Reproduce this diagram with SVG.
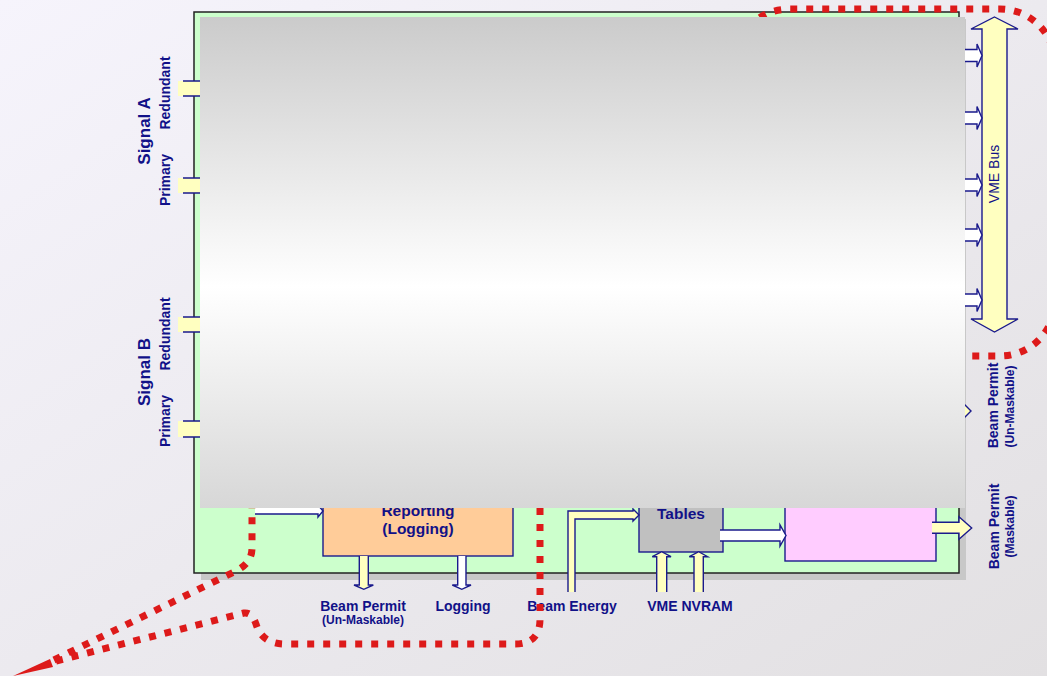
<svg xmlns="http://www.w3.org/2000/svg" width="1047" height="676" viewBox="0 0 1047 676">
<defs>
<linearGradient id="bg" x1="0" y1="0" x2="1" y2="1">
<stop offset="0" stop-color="#f6f4fc"/>
<stop offset="1" stop-color="#e2e0e2"/>
</linearGradient>
<linearGradient id="ov" x1="0" y1="0" x2="0" y2="1">
<stop offset="0" stop-color="#cbcbcb"/>
<stop offset="0.55" stop-color="#ffffff"/>
<stop offset="1" stop-color="#d7d7d7"/>
</linearGradient>
</defs>
<style>
.lbl{font-family:"Liberation Sans",Arial,sans-serif;font-weight:bold;fill:#111188;text-anchor:middle}
.vme{font-family:"Liberation Sans",Arial,sans-serif;fill:#111188;text-anchor:middle;font-size:14px}
.ya{fill:#ffffc0;stroke:#1a1a8c;stroke-width:1.4}
.wa{fill:#ffffff;stroke:#1a1a8c;stroke-width:1.4}
.ln{stroke:#1a1a8c;stroke-width:1.4;fill:none}
.box{stroke:#1a1a8c;stroke-width:1.4}
.red{fill:none;stroke:#dd1a1a;stroke-width:7;stroke-dasharray:7 9}
</style>
<rect width="1047" height="676" fill="url(#bg)"/>

<g id="board">
<rect x="201" y="19" width="765" height="561" fill="#c8c8c8"/>
<rect x="194" y="12" width="765" height="561" fill="#ccffcc" stroke="#222222" stroke-width="1.5"/>
</g>

<g id="signal-inputs">
<rect x="178" y="81" width="27" height="15" fill="#ffffc0"/>
<path class="ln" d="M183,81 H205 M183,96 H205"/>
<rect x="178" y="178" width="27" height="15" fill="#ffffc0"/>
<path class="ln" d="M183,178 H205 M183,193 H205"/>
<rect x="178" y="317" width="27" height="15" fill="#ffffc0"/>
<path class="ln" d="M183,317 H205 M183,332 H205"/>
<rect x="178" y="421" width="27" height="16" fill="#ffffc0"/>
<path class="ln" d="M183,421 H205 M183,437 H205"/>
</g>

<g id="reporting">
<rect class="box" x="323" y="460" width="190" height="96" fill="#ffcc99"/>
<text class="lbl" x="418" y="516" font-size="15.5">Reporting</text>
<text class="lbl" x="418" y="534" font-size="15.5">(Logging)</text>
</g>

<g id="tables">
<rect class="box" x="639" y="460" width="84" height="92" fill="#c0c0c0"/>
<text class="lbl" x="681" y="519" font-size="15.5">Tables</text>
</g>

<g id="permit-logic">
<rect class="box" x="785" y="460" width="151" height="101" fill="#ffccff"/>
</g>

<g id="connectors">
<path class="wa" d="M255,507 H318 V505 L323,511 L318,517 V514 H255"/>
<path class="ya" d="M359.3,556 V585 H354 L363.8,589.3 L373.3,585 H368.3 V556"/>
<path class="wa" d="M457.7,556 V585 H452.3 L461.8,589.3 L471,585 H466 V556"/>
<path class="ya" d="M568,592 V511 H633 V509 L639,515 L633,521 V519 H575 V592"/>
<path class="ya" d="M656.7,592 V556.7 H652.3 L661.7,551.7 L671,556.7 H666.7 V592"/>
<path class="ya" d="M694,592 V556.7 H689.3 L698.7,551.7 L707.7,556.7 H703.3 V592"/>
<path class="wa" d="M720,530 H780 V525 L786,535.5 L780,546 V541 H720"/>
<path class="ya" d="M932,522.3 H959 V516.7 L971.7,528 L959,539.3 V533.3 H932"/>
<path class="ya" d="M930,405.5 H960 V400 L971,411 L960,422 V416.5 H930"/>
</g>

<g id="labels">
<text class="lbl" font-size="17" transform="translate(150,131) rotate(-90)">Signal A</text>
<text class="lbl" font-size="14" transform="translate(170,93) rotate(-90)">Redundant</text>
<text class="lbl" font-size="14" transform="translate(170,180) rotate(-90)">Primary</text>
<text class="lbl" font-size="17" transform="translate(150,372) rotate(-90)">Signal B</text>
<text class="lbl" font-size="14" transform="translate(170,334) rotate(-90)">Redundant</text>
<text class="lbl" font-size="14" transform="translate(170,421) rotate(-90)">Primary</text>
<text class="lbl" x="363" y="611" font-size="14">Beam Permit</text>
<text class="lbl" x="363" y="624" font-size="12">(Un-Maskable)</text>
<text class="lbl" x="463" y="611" font-size="14">Logging</text>
<text class="lbl" x="572" y="611" font-size="14">Beam Energy</text>
<text class="lbl" x="690" y="611" font-size="14">VME NVRAM</text>
<text class="lbl" font-size="14" transform="translate(998,405.5) rotate(-90)">Beam Permit</text>
<text class="lbl" font-size="12" transform="translate(1014,406.5) rotate(-90)">(Un-Maskable)</text>
<text class="lbl" font-size="14" transform="translate(999,526.5) rotate(-90)">Beam Permit</text>
<text class="lbl" font-size="12" transform="translate(1014,526.5) rotate(-90)">(Maskable)</text>
</g>

<g id="callout">
<path class="red" d="M745,45 Q750,10 790,9 L1000,9 A55 55 0 0 1 1055,64 L1055,301 A55 55 0 0 1 1000,356 L950,356 L745,356 Z"/>
<path class="red" d="M54,660 L236,571 Q252,563 252,548 L252,470"/>
<path class="red" d="M56,661 L244,613 Q252,612 256,624 Q262,644 285,644 L515,644 Q540,644 540,619 L540,470"/>
<polygon points="13,676 50,659 53,667" fill="#dd1a1a"/>
</g>

<rect id="overlay" x="200" y="17" width="765" height="491" fill="url(#ov)"/>

<g id="vme-bus">
<path class="ya" d="M994.5,17 L1018,29 H1007 V319 H1018 L994.5,332 L971,319 H982 V29 H971 Z"/>
<text class="vme" transform="translate(999,174) rotate(-90)">VME Bus</text>
</g>

<g id="vme-links">
<path class="wa" d="M965,49.5 H977 V44 L982,55.5 L977,67 V61.5 H965"/>
<path class="wa" d="M965,112 H977 V106.5 L982,118 L977,129.5 V124 H965"/>
<path class="wa" d="M965,179 H977 V173.5 L982,185 L977,196.5 V191 H965"/>
<path class="wa" d="M965,229 H977 V223.5 L982,235 L977,246.5 V241 H965"/>
<path class="wa" d="M965,294 H977 V288.5 L982,300 L977,311.5 V306 H965"/>
</g>
</svg>
